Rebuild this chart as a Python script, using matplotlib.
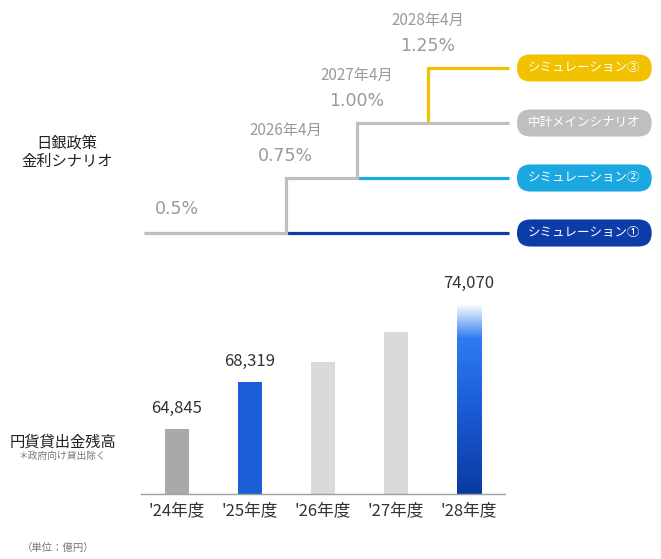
import matplotlib
matplotlib.use("Agg")
import matplotlib.pyplot as plt
import matplotlib.transforms as mtransforms
from matplotlib.colors import LinearSegmentedColormap
from matplotlib.patches import FancyBboxPatch
import numpy as np

plt.rcParams["font.family"] = ["Noto Sans CJK JP", "DejaVu Sans"]

# ---- 金利シナリオ（上段） ----
step_dates = [2024.25, 2026.25, 2027.25, 2028.25, 2029.4]  # 最後は線の終端
step_labels = ["2026年4月", "2027年4月", "2028年4月"]
scenario_names = ["シミュレーション①", "シミュレーション②", "シミュレーション③", "中計メインシナリオ"]
scenario_rates = [
    [0.50, 0.50, 0.50, 0.50, 0.50],
    [0.50, 0.75, 0.75, 0.75, 0.75],
    [0.50, 0.75, 1.00, 1.25, 1.25],
    [0.50, 0.75, 1.00, 1.00, 1.00],
]
scenario_colors = ["#0B3CA8", "#1BA8E0", "#F2C200", "#BFBFBF"]
main_rates = [0.50, 0.75, 1.00, 1.25]

# ---- 円貨貸出金残高（下段） ----
years = ["'24年度", "'25年度", "'26年度", "'27年度", "'28年度"]
loans = [64845, 68319, 69800, 72000, 74070]   # '26,'27 は目盛りから推定
loan_labels = ["64,845", "68,319", "", "", "74,070"]
bar_colors = ["#A9A9A9", "#1C5ED6", "#DADADA", "#DADADA", None]

W, H = 661, 559
fig = plt.figure(figsize=(W / 100, H / 100), dpi=100)

# 上段：図全体に重ねた軸（年 × 金利）
ax = fig.add_axes([0, 0, 1, 1])
ax.set_xlim(2022.226, 2031.536)
ax.set_ylim(-0.9818, 1.559)
ax.axis("off")

main = scenario_rates[-1]
for rates, c in zip(scenario_rates, scenario_colors):
    # メインシナリオから分岐する点以降だけを描く（重なり部分はメインの灰色）
    b = next((i for i in range(len(rates)) if rates[i] != main[i]), 0)
    if b > 0:
        xs = [step_dates[b]] + step_dates[b:]
        ys = [rates[b - 1]] + rates[b:]
    else:
        xs, ys = step_dates, rates
    ax.plot(xs, ys, drawstyle="steps-post", color=c, lw=2.3,
            solid_capstyle="butt", solid_joinstyle="miter")

gray_txt = "#9A9A9A"
ax.annotate("0.5%", (step_dates[0], main_rates[0]), xytext=(8, 17),
            textcoords="offset points", ha="left", va="center",
            fontsize=12.5, color=gray_txt, family="DejaVu Sans")
for d, lab, r in zip(step_dates[1:4], step_labels, main_rates[1:]):
    ax.annotate(lab, (d, r), xytext=(0, 34), textcoords="offset points",
                ha="center", va="center", fontsize=11, color=gray_txt)
    ax.annotate(f"{r:.2f}%", (d, r), xytext=(0, 16), textcoords="offset points",
                ha="center", va="center", fontsize=12.5, color=gray_txt,
                family="DejaVu Sans")

# 凡例ピル
pw, ph, px = 97, 19.5, 54
for name, rates, c in zip(scenario_names, scenario_rates, scenario_colors):
    tr = mtransforms.Affine2D().scale(fig.dpi / 72) + \
        mtransforms.ScaledTranslation(step_dates[-1], rates[-1], ax.transData)
    pill = FancyBboxPatch((px - pw / 2, -ph / 2), pw, ph,
                          boxstyle=f"round,pad=0,rounding_size={ph / 2}",
                          fc=c, ec="none", transform=tr)
    ax.add_patch(pill)
    ax.annotate(name, (step_dates[-1], rates[-1]), xytext=(px, 0),
                textcoords="offset points", ha="center", va="center",
                fontsize=9, color="white")

fig.text(67 / W, 1 - 143 / H, "日銀政策", ha="center", va="center", fontsize=11, color="#222222")
fig.text(67 / W, 1 - 161 / H, "金利シナリオ", ha="center", va="center", fontsize=11, color="#222222")

# 下段：棒グラフ
axb = fig.add_axes([140.5 / W, 65 / H, 365 / W, 234 / H])
axb.patch.set_alpha(0)
x = np.arange(len(years))
bw = 0.34
bars = axb.bar(x, loans, width=bw, bottom=0,
               color=[c if c else "none" for c in bar_colors], zorder=2)

# '28年度：グラデーション
grad = LinearSegmentedColormap.from_list(
    "g", [(0, "#0A3AA0"), (0.5, "#1D60DA"), (0.82, "#2E7BF2"), (1.0, "#FFFFFF")])
last = bars[-1]
img = axb.imshow(np.linspace(0, 1, 256).reshape(-1, 1), cmap=grad, origin="lower",
                 extent=[x[-1] - bw / 2, x[-1] + bw / 2, 60000, loans[-1]],
                 aspect="auto", zorder=2)
img.set_clip_path(last)

axb.set_xlim(-0.5, len(years) - 0.5)
axb.set_ylim(60000, 77333)
for s in ["top", "right", "left"]:
    axb.spines[s].set_visible(False)
axb.spines["bottom"].set_color("#A0A0A0")
axb.spines["bottom"].set_linewidth(1)
axb.set_yticks([])
axb.set_xticks(x)
axb.set_xticklabels(years, fontsize=12, color="#333333")
axb.tick_params(axis="x", length=0, pad=6)

for xi, v, lab in zip(x, loans, loan_labels):
    if lab:
        axb.annotate(lab, (xi, v), xytext=(0, 14.5), textcoords="offset points",
                     ha="center", va="center", fontsize=12, color="#333333")

fig.text(63 / W, 1 - 442 / H, "円貨貸出金残高", ha="center", va="center", fontsize=11, color="#222222")
fig.text(62 / W, 1 - 456 / H, "＊政府向け貸出除く", ha="center", va="center", fontsize=7, color="#777777")
fig.text(58 / W, 1 - 548 / H, "（単位：億円）", ha="center", va="center", fontsize=7.5, color="#777777")

fig.savefig("out.png", dpi=100)
